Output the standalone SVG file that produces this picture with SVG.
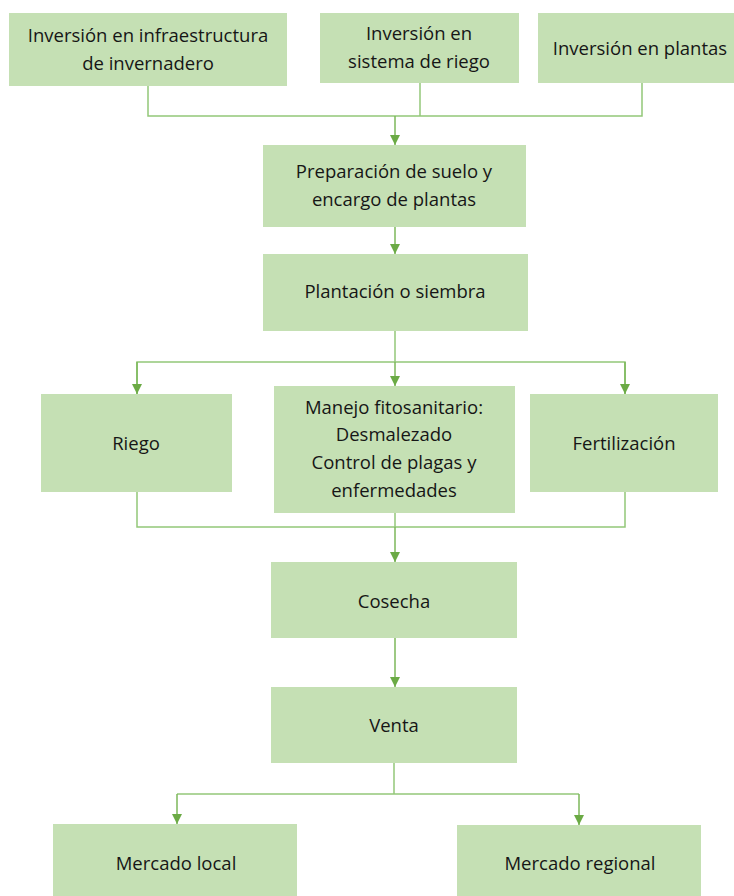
<svg xmlns="http://www.w3.org/2000/svg" width="734" height="896" viewBox="0 0 734 896">
  <defs>
    <marker id="arrow" viewBox="0 0 10 10" refX="10" refY="5" markerWidth="10" markerHeight="10" markerUnits="userSpaceOnUse" orient="auto">
      <path d="M0,0 L10,5 L0,10 Z" fill="#6BAA45"/>
    </marker>
    <style>
      .box { fill: #C5E0B4; }
      .lbl { font-family: "Open Sans", "Liberation Sans", sans-serif; font-size: 18.5px; fill: #161616; text-anchor: middle; }
      .con { fill: none; stroke: #93C778; stroke-width: 1.5; }
      .arr { fill: none; stroke: #7DB75A; stroke-width: 1.5; marker-end: url(#arrow); }
    </style>
  </defs>
  <rect width="734" height="896" fill="#FFFFFF"/>

  <g id="connectors">
    <!-- investments merge into soil preparation -->
    <polyline class="con" points="148,86 148,116 642,116 642,83"/>
    <line class="con" x1="420" y1="83" x2="420" y2="116"/>
    <line class="arr" x1="395" y1="116" x2="395" y2="145"/>
    <!-- preparation to planting -->
    <line class="arr" x1="395" y1="227" x2="395" y2="254"/>
    <!-- planting fans out to three tasks -->
    <line class="con" x1="395" y1="331" x2="395" y2="362"/>
    <polyline class="con" points="137,394 137,362 625,362 625,394"/>
    <line class="arr" x1="137" y1="362" x2="137" y2="394"/>
    <line class="arr" x1="625" y1="362" x2="625" y2="394"/>
    <line class="arr" x1="395" y1="362" x2="395" y2="386"/>
    <!-- tasks merge into harvest -->
    <polyline class="con" points="137,492 137,527 625,527 625,492"/>
    <line class="con" x1="395" y1="513" x2="395" y2="527"/>
    <line class="arr" x1="395" y1="527" x2="395" y2="562"/>
    <!-- harvest to sale -->
    <line class="arr" x1="395" y1="638" x2="395" y2="687"/>
    <!-- sale splits to markets -->
    <line class="con" x1="394" y1="763" x2="394" y2="794"/>
    <line class="con" x1="177" y1="794" x2="579" y2="794"/>
    <line class="arr" x1="177" y1="794" x2="177" y2="824"/>
    <line class="arr" x1="579" y1="794" x2="579" y2="825"/>
  </g>

  <g id="inv-infraestructura">
    <rect class="box" x="9" y="13" width="278" height="73"/>
    <text class="lbl" x="148" y="42">Inversión en infraestructura</text>
    <text class="lbl" x="148" y="70">de invernadero</text>
  </g>
  <g id="inv-riego">
    <rect class="box" x="320" y="13" width="199" height="70"/>
    <text class="lbl" x="419" y="40">Inversión en</text>
    <text class="lbl" x="419" y="68">sistema de riego</text>
  </g>
  <g id="inv-plantas">
    <rect class="box" x="538" y="13" width="196" height="70"/>
    <text class="lbl" x="640" y="55">Inversión en plantas</text>
  </g>
  <g id="preparacion">
    <rect class="box" x="263" y="145" width="263" height="82"/>
    <text class="lbl" x="394" y="178">Preparación de suelo y</text>
    <text class="lbl" x="394" y="206">encargo de plantas</text>
  </g>
  <g id="plantacion">
    <rect class="box" x="263" y="254" width="265" height="77"/>
    <text class="lbl" x="395" y="298">Plantación o siembra</text>
  </g>
  <g id="riego">
    <rect class="box" x="41" y="394" width="191" height="98"/>
    <text class="lbl" x="136" y="450">Riego</text>
  </g>
  <g id="manejo">
    <rect class="box" x="274" y="386" width="241" height="127"/>
    <text class="lbl" x="394" y="414">Manejo fitosanitario:</text>
    <text class="lbl" x="394" y="441">Desmalezado</text>
    <text class="lbl" x="394" y="469">Control de plagas y</text>
    <text class="lbl" x="394" y="497">enfermedades</text>
  </g>
  <g id="fertilizacion">
    <rect class="box" x="530" y="394" width="188" height="98"/>
    <text class="lbl" x="624" y="450">Fertilización</text>
  </g>
  <g id="cosecha">
    <rect class="box" x="271" y="562" width="246" height="76"/>
    <text class="lbl" x="394" y="608">Cosecha</text>
  </g>
  <g id="venta">
    <rect class="box" x="271" y="687" width="246" height="76"/>
    <text class="lbl" x="394" y="732">Venta</text>
  </g>
  <g id="mercado-local">
    <rect class="box" x="53" y="824" width="244" height="72"/>
    <text class="lbl" x="176" y="870">Mercado local</text>
  </g>
  <g id="mercado-regional">
    <rect class="box" x="457" y="825" width="244" height="71"/>
    <text class="lbl" x="580" y="870">Mercado regional</text>
  </g>
</svg>
